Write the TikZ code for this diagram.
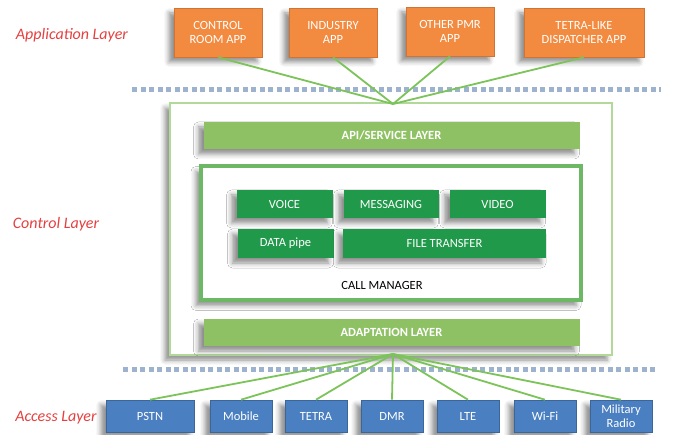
\documentclass[tikz,border=0pt]{standalone}
\usepackage{fontspec}
\setmainfont{Carlito}
\usetikzlibrary{shadows.blur}
\definecolor{apporange}{HTML}{F28A3F}
\definecolor{barlight}{HTML}{8EC163}
\definecolor{boxgreen}{HTML}{20994A}
\definecolor{accblue}{HTML}{4A7FC1}
\definecolor{wiregreen}{HTML}{7CC35A}
\definecolor{framegreen}{HTML}{B2D89A}
\definecolor{mgrgreen}{HTML}{6DB865}
\definecolor{sepblue}{HTML}{9CB2CF}
\definecolor{layerred}{HTML}{E4403F}

\begin{document}
\begin{tikzpicture}[x=1pt,y=-1pt]
\tikzstyle{every node}+=[inner sep=0pt]
\tikzstyle{shade}=[blur shadow={shadow xshift=-5pt,shadow yshift=-5pt,shadow blur radius=5pt,shadow opacity=45}]
\tikzstyle{appbox}=[shade,fill=apporange,draw=apporange!85!black,line width=0.6pt,text=white,align=center,minimum height=49pt,font=\fontsize{12.5}{14}\selectfont]
\tikzstyle{barbox}=[shade,fill=barlight,text=white,minimum width=376pt,minimum height=27pt,font=\bfseries\fontsize{12.5}{14}\selectfont]
\tikzstyle{svcbox}=[shade,fill=boxgreen,text=white,minimum height=28pt,font=\fontsize{12.5}{14}\selectfont]
\tikzstyle{accbox}=[shade,fill=accblue,draw=accblue!80!black,line width=0.6pt,text=white,align=center,minimum height=32pt,font=\fontsize{12.5}{13.5}\selectfont]
\tikzstyle{wire}=[wiregreen,line width=1.8pt]
\tikzstyle{sepline}=[sepblue,line width=5pt,dash pattern=on 5pt off 3.5pt]
\tikzstyle{layerlabel}=[text=layerred,font=\itshape\fontsize{16}{18}\selectfont]
\useasboundingbox (0,0) rectangle (678,435);

% layer names
\node[layerlabel] (lapp) at (72,35) {Application Layer};
\node[layerlabel] (lctl) at (56,224) {Control Layer};
\node[layerlabel] (lacc) at (56,418) {Access Layer};

% separators
\draw[sepline] (132,90) -- (661,90);
\draw[sepline] (123,370) -- (655,370);

% control layer
\node[shade,draw=framegreen,line width=2pt,fill=white,minimum width=442pt,minimum height=252pt] (ctl) at (391,229) {};
\coordinate (hubtop) at (393,104);
\coordinate (hubbot) at (393,354);
\node[barbox] (api) at (391.5,135.5) {API/SERVICE LAYER};
\node[shade,draw=mgrgreen,line width=4pt,fill=white,minimum width=380pt,minimum height=134pt] (mgr) at (391,233.5) {};
\node[svcbox,minimum width=96pt] (voice) at (284.5,204) {VOICE};
\node[svcbox,minimum width=95pt] (msg) at (391,204) {MESSAGING};
\node[svcbox,minimum width=96pt] (video) at (497.5,204) {VIDEO};
\node[svcbox,minimum width=96pt,minimum height=29pt] (data) at (285.5,243.5) {DATA pipe};
\node[svcbox,minimum width=203pt,minimum height=29pt] (ftp) at (444.5,243.5) {FILE TRANSFER};
\node[font=\fontsize{12.5}{14}\selectfont] (mgrname) at (382,285) {CALL MANAGER};
\node[barbox] (adapt) at (391.5,332.5) {ADAPTATION LAYER};

% application layer
\node[appbox,minimum width=88pt] (croom) at (218,32.5) {CONTROL\\ROOM APP};
\node[appbox,minimum width=88pt] (indus) at (333,32.5) {INDUSTRY\\APP};
\node[appbox,minimum width=88pt] (opmr) at (450,31.5) {OTHER PMR\\APP};
\node[appbox,minimum width=120pt] (tdisp) at (584,32.5) {TETRA-LIKE\\DISPATCHER APP};
\foreach \a in {croom,indus,opmr,tdisp}
  \draw[wire] (\a.south) -- (hubtop);

% access layer
\node[accbox,minimum width=88pt] (pstn) at (150,416) {PSTN};
\node[accbox,minimum width=62pt] (mob) at (241,416) {Mobile};
\node[accbox,minimum width=62pt] (tetra) at (316,416) {TETRA};
\node[accbox,minimum width=62pt] (dmr) at (392,416) {DMR};
\node[accbox,minimum width=62pt] (lte) at (468,416) {LTE};
\node[accbox,minimum width=62pt] (wifi) at (545,416) {Wi-Fi};
\node[accbox,minimum width=62pt] (milr) at (621,416) {Military\\Radio};
\foreach \a in {pstn,mob,tetra,dmr,lte,wifi,milr}
  \draw[wire] (hubbot) -- (\a.north);
\end{tikzpicture}
\end{document}
